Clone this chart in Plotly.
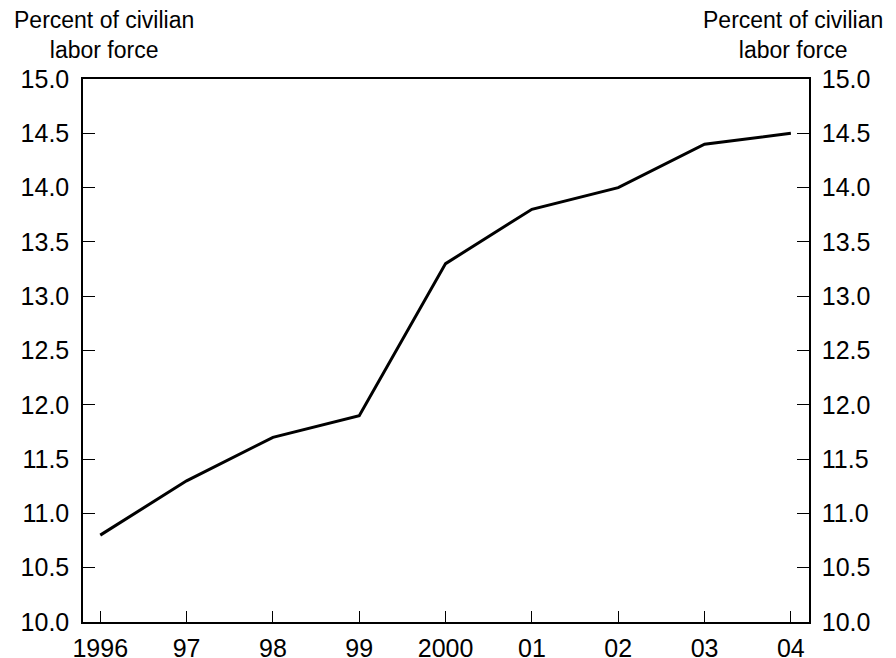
import plotly.graph_objects as go

years = [1996, 1997, 1998, 1999, 2000, 2001, 2002, 2003, 2004]
year_labels = ["1996", "97", "98", "99", "2000", "01", "02", "03", "04"]
values = [10.8, 11.3, 11.7, 11.9, 13.3, 13.8, 14.0, 14.4, 14.5]
y_ticks = [10.0, 10.5, 11.0, 11.5, 12.0, 12.5, 13.0, 13.5, 14.0, 14.5, 15.0]
y_tick_labels = [f"{v:.1f}" for v in y_ticks]
axis_title = "Percent of civilian<br>labor force"

FONT = "Liberation Sans, Arial, sans-serif"

fig = go.Figure()
fig.add_trace(go.Scatter(x=years, y=values, mode="lines",
                         line=dict(color="black", width=3), showlegend=False))
# invisible trace for right axis
fig.add_trace(go.Scatter(x=years, y=values, mode="lines", yaxis="y2",
                         line=dict(color="rgba(0,0,0,0)", width=0),
                         showlegend=False, hoverinfo="skip"))

fig.update_layout(
    width=888, height=650,
    margin=dict(l=75, r=87, t=71, b=36, autoexpand=False),
    paper_bgcolor="white", plot_bgcolor="white",
    font=dict(family=FONT, color="black", size=25),
    xaxis=dict(range=[1995.8, 2004.21], tickvals=years, ticktext=year_labels,
               ticks="inside", ticklen=11, tickwidth=1, tickcolor="black",
               showline=True, linecolor="black", linewidth=1.5, mirror=True,
               showgrid=False, zeroline=False, tickfont=dict(size=25),
               ticklabelstandoff=3, automargin=False),
    yaxis=dict(range=[10, 15], tickvals=y_ticks, ticktext=y_tick_labels,
               ticks="inside", ticklen=12, tickwidth=1, tickcolor="black",
               showline=True, linecolor="black", linewidth=1.5,
               showgrid=False, zeroline=False, tickfont=dict(size=25),
               ticklabelstandoff=7, automargin=False),
    yaxis2=dict(range=[10, 15], tickvals=y_ticks, ticktext=y_tick_labels,
                overlaying="y", side="right",
                ticks="inside", ticklen=12, tickwidth=1, tickcolor="black",
                showline=True, linecolor="black", linewidth=1.5,
                showgrid=False, zeroline=False, tickfont=dict(size=25),
                ticklabelstandoff=6, automargin=False),
    annotations=[
        dict(text=axis_title, xref="paper", yref="paper", x=0.029, y=1.0,
             xanchor="center", yanchor="bottom", yshift=14, showarrow=False,
             font=dict(size=23, family=FONT), align="center"),
        dict(text=axis_title, xref="paper", yref="paper", x=0.978, y=1.0,
             xanchor="center", yanchor="bottom", yshift=14, showarrow=False,
             font=dict(size=23, family=FONT), align="center"),
    ],
)

fig.write_html("out.html")
